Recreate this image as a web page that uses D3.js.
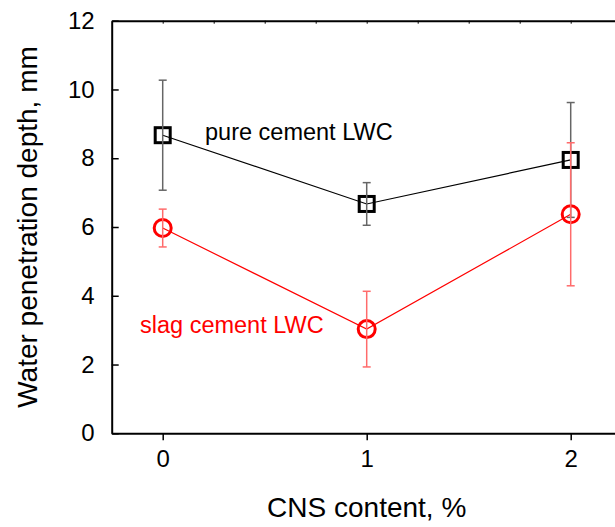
<!DOCTYPE html>
<html>
<head>
<meta charset="utf-8">
<script src="https://cdn.jsdelivr.net/npm/d3@7"></script>
<style>
  html, body { margin: 0; padding: 0; background: #fff; }
  svg { display: block; font-family: "Liberation Sans", Arial, sans-serif; }
</style>
</head>
<body>
<svg id="chart" width="615" height="527"></svg>
<script>
// CNS content levels (%)
const cnsContent = [0, 1, 2];
// Pure cement LWC: mean penetration depth and error (mm)
const pureMean = [8.67, 6.67, 7.95];
const pureErr  = [1.60, 0.62, 1.67];
// Slag cement LWC: mean penetration depth and error (mm)
const slagMean = [5.97, 3.03, 6.37];
const slagErr  = [0.55, 1.10, 2.08];
// Axis ticks
const xTicks = [0, 1, 2];
const yTicks = [0, 2, 4, 6, 8, 10, 12];

const svg = d3.select("#chart");
const plotLeft = 111.7, plotRight = 621.7, plotTop = 20.7, plotBottom = 433.3;

const x = d3.scaleLinear().domain([-0.25, 2.25]).range([plotLeft, plotRight]);
const y = d3.scaleLinear().domain([0, 12]).range([plotBottom, plotTop]);

// Left axis: inward ticks
const yAxis = svg.append("g").attr("transform", `translate(${plotLeft},0)`)
  .call(d3.axisLeft(y).tickValues(yTicks).tickFormat(d3.format("d"))
    .tickSizeInner(-7).tickSizeOuter(0).tickPadding(17));
yAxis.select(".domain").attr("stroke-width", 2);
yAxis.selectAll(".tick line").attr("stroke-width", 1.5);
yAxis.selectAll("text").attr("font-size", 24).attr("fill", "#000");

// Bottom axis: outward ticks
const xAxis = svg.append("g").attr("transform", `translate(0,${plotBottom})`)
  .call(d3.axisBottom(x).tickValues(xTicks).tickFormat(d3.format("d"))
    .tickSizeInner(7).tickSizeOuter(0).tickPadding(10));
xAxis.select(".domain").attr("stroke-width", 2);
xAxis.selectAll(".tick line").attr("stroke-width", 1.5);
xAxis.selectAll("text").attr("font-size", 24).attr("fill", "#000");

// Top frame with small inward minor ticks
const topAxis = svg.append("g").attr("transform", `translate(0,${plotTop})`)
  .call(d3.axisTop(x).tickValues(d3.range(0, 2.26, 0.25)).tickSizeInner(-3).tickSizeOuter(0).tickFormat(""));
topAxis.select(".domain").attr("stroke-width", 2);
topAxis.selectAll(".tick line").attr("stroke-width", 1);

// Axis titles
svg.append("text")
  .attr("x", x(1)).attr("y", 517)
  .attr("text-anchor", "middle").attr("font-size", 28)
  .text("CNS content, %");
svg.append("text")
  .attr("transform", `translate(37,${(plotTop + plotBottom) / 2}) rotate(-90)`)
  .attr("text-anchor", "middle").attr("font-size", 28)
  .text("Water penetration depth, mm");

const line = d3.line().x((d, i) => x(cnsContent[i])).y(d => y(d));

function drawSeries(means, errs, color, errColor, marker) {
  const g = svg.append("g");
  g.append("path").datum(means).attr("d", line)
    .attr("fill", "none").attr("stroke", color).attr("stroke-width", 1.2);
  // markers
  means.forEach((m, i) => {
    const cx = x(cnsContent[i]), cy = y(m);
    if (marker === "square") {
      g.append("rect").attr("x", cx - 7.5).attr("y", cy - 7.5)
        .attr("width", 15).attr("height", 15)
        .attr("fill", "none").attr("stroke", color).attr("stroke-width", 3);
    } else {
      g.append("circle").attr("cx", cx).attr("cy", cy).attr("r", 8.5)
        .attr("fill", "none").attr("stroke", color).attr("stroke-width", 3);
    }
  });
  // error bars on top
  means.forEach((m, i) => {
    const cx = x(cnsContent[i]);
    const y1 = y(m + errs[i]), y0 = y(m - errs[i]);
    g.append("line").attr("x1", cx).attr("x2", cx).attr("y1", y1).attr("y2", y0)
      .attr("stroke", errColor).attr("stroke-width", 1.5);
    [y1, y0].forEach(yy => g.append("line")
      .attr("x1", cx - 4).attr("x2", cx + 4).attr("y1", yy).attr("y2", yy)
      .attr("stroke", errColor).attr("stroke-width", 1.5));
  });
}

drawSeries(pureMean, pureErr, "#000", "#666", "square");
drawSeries(slagMean, slagErr, "#ff0000", "#ff6b6b", "circle");

// Series labels
svg.append("text").attr("x", 205).attr("y", 140).attr("font-size", 23.5)
  .attr("fill", "#000").text("pure cement LWC");
svg.append("text").attr("x", 140).attr("y", 333).attr("font-size", 23.5)
  .attr("fill", "#ff0000").text("slag cement LWC");
</script>
</body>
</html>
